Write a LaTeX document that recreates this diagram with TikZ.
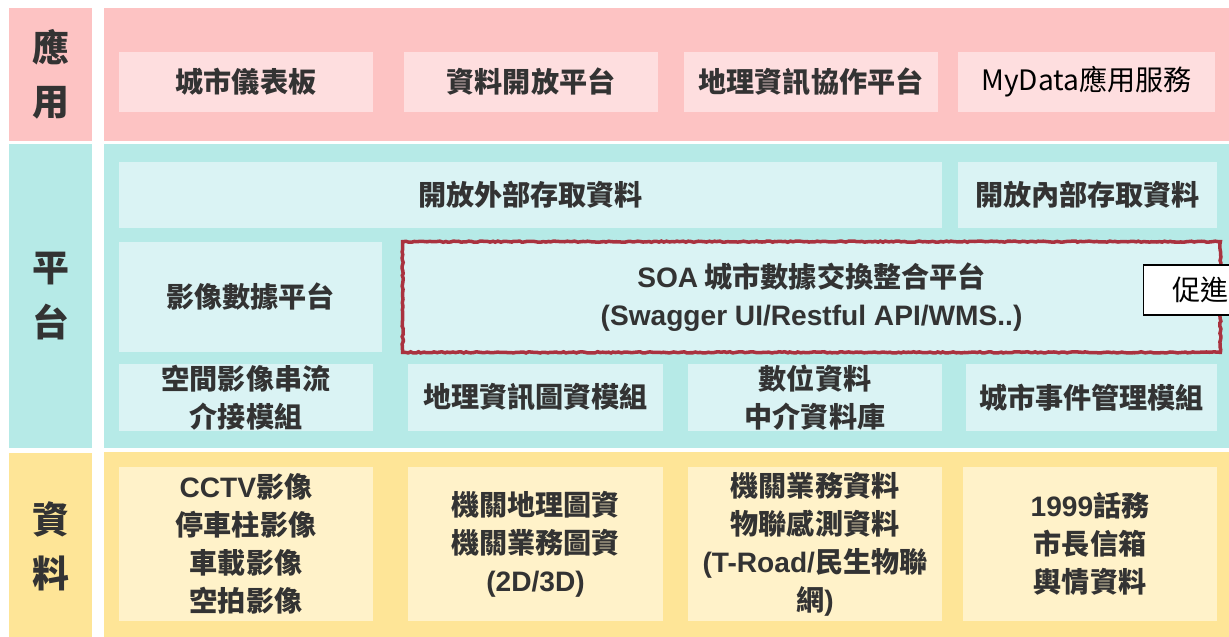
\documentclass[tikz,border=0pt]{standalone}
\usepackage{fontspec}
\setmainfont{Noto Sans CJK TC}
\newfontfamily\latin{Liberation Sans}
\usepackage{xcolor}
\usetikzlibrary{decorations.pathmorphing}
\definecolor{roseFonce}{HTML}{FDC3C3}
\definecolor{roseClair}{HTML}{FEDEDF}
\definecolor{turquoiseFonce}{HTML}{B6EAE7}
\definecolor{turquoiseClair}{HTML}{DAF3F4}
\definecolor{jauneFonce}{HTML}{FEE597}
\definecolor{jauneClair}{HTML}{FFF2C9}
\definecolor{rougeBord}{HTML}{A9323F}
\definecolor{texte}{HTML}{333333}
\newcommand{\lat}[1]{{\latin\bfseries #1}}

\begin{document}
\begin{tikzpicture}[x=0.02cm,y=-0.02cm]
% Dimensions (MODIFIABLES)
\def\Pixel{0.02cm}
\def\LargeurBoite{254}
% Styles (MODIFIABLES)
\tikzstyle{base}=[inner sep=0pt,text=texte,align=center]
\tikzstyle{etiquette}=[base,minimum width=83*\Pixel,font=\fontsize{21}{31}\selectfont\bfseries]
\tikzstyle{bandeau}=[base,minimum width=1136*\Pixel]
\tikzstyle{boite}=[base,font=\fontsize{16}{21.6}\selectfont\bfseries]
\tikzstyle{boiteRose}=[boite,fill=roseClair,minimum height=60*\Pixel]
\tikzstyle{boiteTurq}=[boite,fill=turquoiseClair]
\tikzstyle{boiteJaune}=[boite,fill=jauneClair,minimum height=154*\Pixel]
\tikzstyle{bordRugueux}=[draw=rougeBord,line width=2pt,decorate,
  decoration={random steps,segment length=1.5pt,amplitude=0.35pt}]
\tikzstyle{promo}=[draw=black,fill=white,line width=0.6pt,anchor=west,
  minimum height=50*\Pixel,inner xsep=29*\Pixel,font=\fontsize{16}{20}\selectfont]
% Cadre
\useasboundingbox (0,0) rectangle (1229,636);
\clip (0,0) rectangle (1229,636);
% Etiquettes
\node[etiquette,fill=roseFonce,minimum height=133*\Pixel] (EtiqApp) at (50.5,74.5) {應\\用};
\node[etiquette,fill=turquoiseFonce,minimum height=304*\Pixel] (EtiqPlat) at (50.5,296) {平\\台};
\node[etiquette,fill=jauneFonce,minimum height=187*\Pixel] (EtiqData) at (50.5,546.5) {資\\料};
% Bandeaux
\node[bandeau,fill=roseFonce,minimum height=133*\Pixel] (BandApp) at (672,74.5) {};
\node[bandeau,fill=turquoiseFonce,minimum height=304*\Pixel] (BandPlat) at (672,296) {};
\node[bandeau,fill=jauneFonce,minimum height=188*\Pixel] (BandData) at (672,546) {};
% Applications
\node[boiteRose,minimum width=\LargeurBoite*\Pixel] (Tableau) at (246,82) {城市儀表板};
\node[boiteRose,minimum width=\LargeurBoite*\Pixel] (OpenData) at (531,82) {資料開放平台};
\node[boiteRose,minimum width=\LargeurBoite*\Pixel] (GeoCollab) at (811,82) {地理資訊協作平台};
\node[boiteRose,minimum width=257*\Pixel,text=black,font=\fontsize{16}{21.6}\selectfont] (MyData) at (1086.5,82) {MyData應用服務};
% Plateforme
\node[boiteTurq,minimum width=823*\Pixel,minimum height=66*\Pixel] (AccesExt) at (530.5,195) {開放外部存取資料};
\node[boiteTurq,minimum width=259*\Pixel,minimum height=66*\Pixel] (AccesInt) at (1087.5,195) {開放內部存取資料};
\node[boiteTurq,minimum width=263*\Pixel,minimum height=110*\Pixel] (ImageData) at (250.5,297) {影像數據平台};
\node[boiteTurq,minimum width=817*\Pixel,minimum height=110*\Pixel] (SOA) at (811.5,297)
  {\lat{SOA} 城市數據交換整合平台\\\lat{(Swagger UI/Restful API/WMS..)}};
\draw[bordRugueux] (SOA.north west) rectangle (SOA.south east);
\node[boiteTurq,minimum width=\LargeurBoite*\Pixel,minimum height=67*\Pixel] (Flux) at (246,397.5) {空間影像串流\\介接模組};
\node[boiteTurq,minimum width=255*\Pixel,minimum height=67*\Pixel] (ModuleGeo) at (535.5,397.5) {地理資訊圖資模組};
\node[boiteTurq,minimum width=\LargeurBoite*\Pixel,minimum height=67*\Pixel] (Intermed) at (815,397.5) {數位資料\\中介資料庫};
\node[boiteTurq,minimum width=251*\Pixel,minimum height=67*\Pixel] (Evenement) at (1091.5,397.5) {城市事件管理模組};
\node[promo] (Promotion) at (1143,290) {促進};
% Donnees
\node[boiteJaune,minimum width=\LargeurBoite*\Pixel] (Video) at (246,544)
  {\lat{CCTV}影像\\停車柱影像\\車載影像\\空拍影像};
\node[boiteJaune,minimum width=255*\Pixel] (Carto) at (535.5,544)
  {機關地理圖資\\機關業務圖資\\\lat{(2D/3D)}};
\node[boiteJaune,minimum width=\LargeurBoite*\Pixel] (Capteurs) at (815,544)
  {機關業務資料\\物聯感測資料\\\lat{(T-Road/}民生物聯\\網\lat{)}};
\node[boiteJaune,minimum width=\LargeurBoite*\Pixel] (Citoyen) at (1090,544)
  {\lat{1999}話務\\市長信箱\\輿情資料};
\end{tikzpicture}
\end{document}
